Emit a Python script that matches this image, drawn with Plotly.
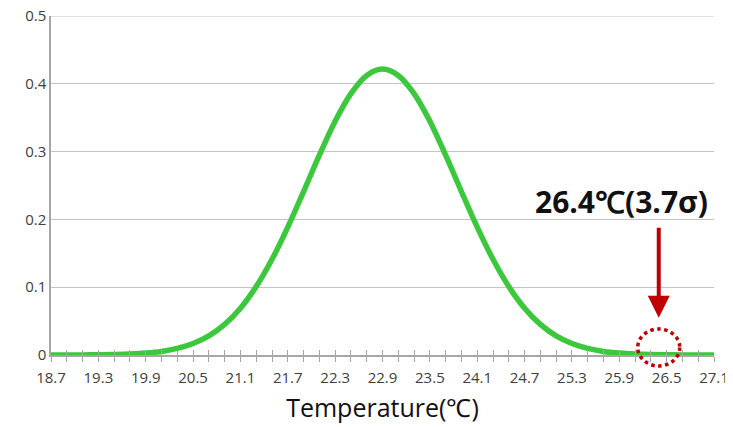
import plotly.graph_objects as go

# Temperature categories (°C) at 0.2 steps, and curve heights
temps = [round(18.7 + 0.2 * i, 1) for i in range(43)]
density = [0.00002, 0.00005, 0.00013, 0.0003, 0.00066, 0.0014, 0.0028, 0.0053,
           0.0097, 0.0169, 0.0282, 0.0451, 0.0690, 0.1009, 0.1411, 0.1887,
           0.2411, 0.2948, 0.3449, 0.3856, 0.4124, 0.4217, 0.4124, 0.3856,
           0.3449, 0.2948, 0.2411, 0.1887, 0.1411, 0.1009, 0.0690, 0.0451,
           0.0282, 0.0169, 0.0097, 0.0053, 0.0028, 0.0014, 0.00066, 0.0003,
           0.00013, 0.00005, 0.00002]
tick_labels = ["18.7", "19.3", "19.9", "20.5", "21.1", "21.7", "22.3", "22.9",
               "23.5", "24.1", "24.7", "25.3", "25.9", "26.5", "27.1"]
tick_vals = [float(t) for t in tick_labels]
y_ticks = [0, 0.1, 0.2, 0.3, 0.4, 0.5]
y_labels = ["0", "0.1", "0.2", "0.3", "0.4", "0.5"]
marker_temp = 26.4
marker_label = "26.4℃(3.7σ)"

x_min, x_max = temps[0], temps[-1]
y_max = y_ticks[-1]

fig = go.Figure()
fig.add_trace(go.Scatter(x=temps, y=density, mode="lines",
                         line=dict(color="#3cc83c", width=5.5, shape="spline"),
                         hoverinfo="skip", showlegend=False))
# invisible trace on overlay axis for inside ticks
fig.add_trace(go.Scatter(x=[x_min, x_max], y=[0, 0], xaxis="x2",
                         mode="lines", line=dict(width=0), hoverinfo="skip",
                         showlegend=False))

grid = "#c4c4c4"
axc = "#a6a6a6"
fig.update_layout(
    width=725, height=419,
    margin=dict(l=43, r=19, t=8, b=72),
    paper_bgcolor="white", plot_bgcolor="white",
    font=dict(family="Open Sans", color="#404040", size=14),
    xaxis=dict(range=[x_min, x_max], tickvals=tick_vals, ticktext=tick_labels,
               automargin=False, ticklabelstandoff=3, ticklabeloverflow="allow",
               showgrid=False, zeroline=False, showline=True, linecolor=axc,
               linewidth=1.5, ticks="outside", ticklen=5, tickcolor=axc,
               minor=dict(dtick=0.2, tick0=x_min, ticks="outside", ticklen=5,
                          tickcolor=axc, showgrid=False),
               tickfont=dict(size=15, color="#404040"),
               title=dict(text="Temperature(℃)", font=dict(size=25, color="#111111"),
                          standoff=14)),
    xaxis2=dict(range=[x_min, x_max], overlaying="x", anchor="y", side="bottom",
                showticklabels=False, showgrid=False, zeroline=False,
                tick0=x_min, dtick=0.2, ticks="inside", ticklen=5,
                tickcolor=axc, showline=False, automargin=False),
    yaxis=dict(range=[0, y_max], tickvals=y_ticks, ticktext=y_labels,
               showgrid=True, gridcolor=grid, ticklabeloverflow="allow",
               gridwidth=1.2, zeroline=False, showline=True, linecolor=axc,
               linewidth=1.5, ticks="", automargin=False,
               tickfont=dict(size=15, color="#404040"), ticksuffix="   "),
)

# top gridline (plotly drops the gridline at the range end)
fig.add_shape(type="line", xref="paper", yref="y", x0=0, x1=1, y0=y_max, y1=y_max,
              line=dict(color=grid, width=1.2), layer="below")

xpaper = (marker_temp - x_min) / (x_max - x_min)
fig.add_shape(type="circle", xref="paper", yref="paper", xsizemode="pixel",
              ysizemode="pixel", xanchor=xpaper, yanchor=0,
              x0=-21, x1=21, y0=-11, y1=26,
              line=dict(color="#c00000", width=3.5, dash="dot"))

fig.add_annotation(x=marker_temp, y=0.055, ax=marker_temp, ay=0.19,
                   axref="x", ayref="y", xref="x", yref="y", text="",
                   showarrow=True, arrowhead=2, arrowwidth=4, arrowsize=1.1,
                   arrowcolor="#c00000")
fig.add_annotation(x=25.93, y=0.226, xref="x", yref="y", text="<b>" + marker_label + "</b>",
                   showarrow=False, font=dict(size=30, color="#111111", family="Open Sans"))

fig.write_html("out.html")
